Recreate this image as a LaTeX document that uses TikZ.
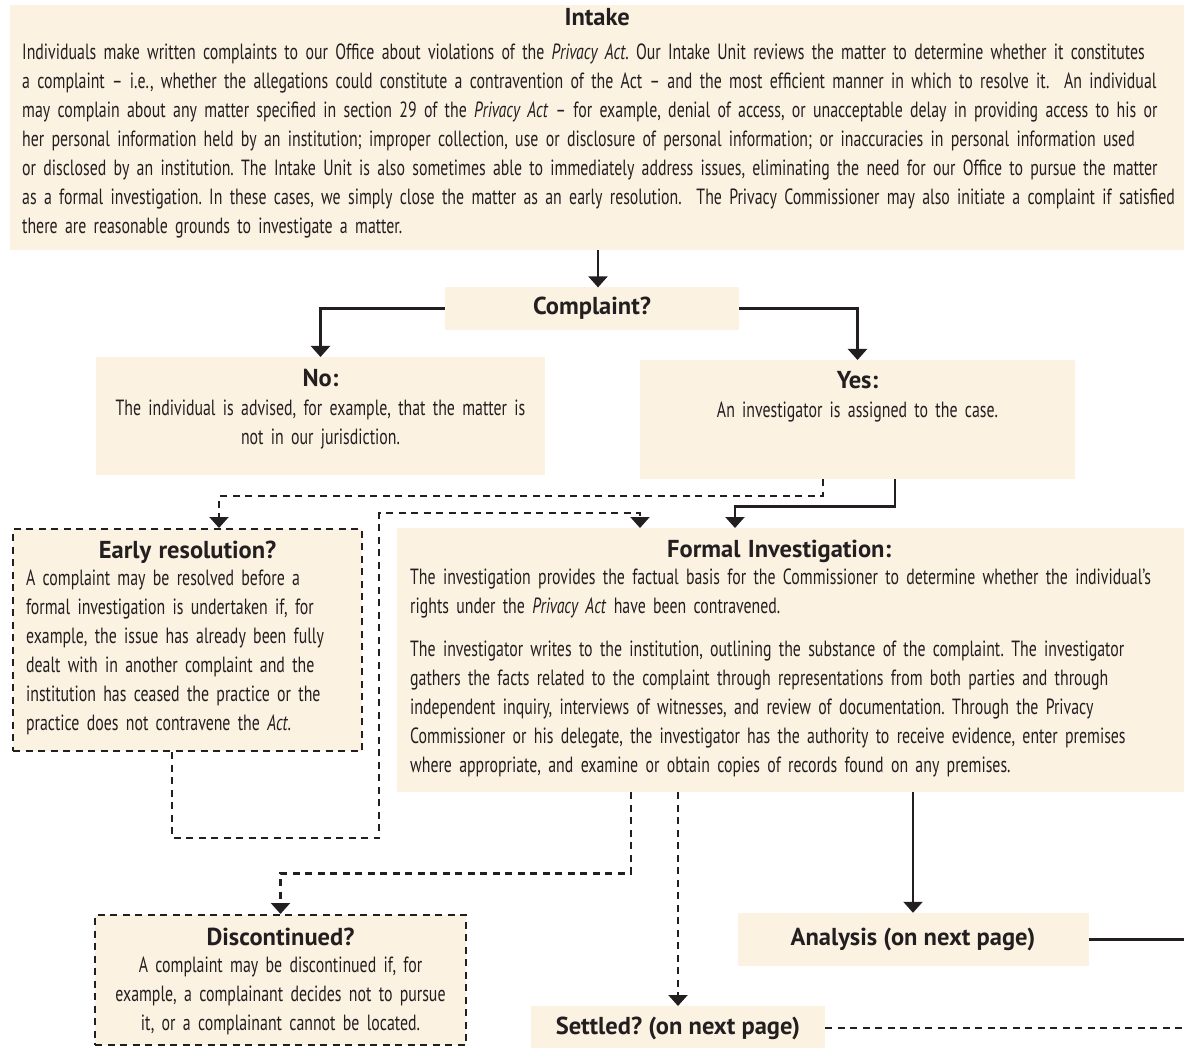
\documentclass[tikz,border=0pt]{standalone}
\usepackage{fontspec}
\setmainfont{PT Sans}[FakeStretch=0.72]
\newfontfamily\headfont{PT Sans}[FakeStretch=1.0]
\usetikzlibrary{arrows.meta}
\definecolor{cream}{HTML}{FBF2E2}
\definecolor{ink}{HTML}{231F20}
\setlength{\parindent}{0pt}
\frenchspacing
\newcommand{\hd}[1]{{\headfont\bfseries\fontsize{24.5pt}{29pt}\selectfont #1}}
\newcommand{\boxtitle}[2]{\makebox[#1]{\hd{#2}}}
\newcommand{\tl}[1]{\mbox{#1}}
\newcommand{\tgap}[1]{\rule{0pt}{#1}}
\newcommand{\bgap}[1]{\rule[-#1]{0pt}{#1}}

\begin{document}
\begin{tikzpicture}[x=1pt, y=-1pt,
	font={\fontsize{22pt}{29pt}\selectfont}, every node/.style={text=ink},
	box/.style={fill=cream, inner ysep=0pt},
	dbox/.style={box, draw=ink, line width=2.2pt, dash pattern=on 7pt off 5.5pt},
	head/.style={box, inner sep=0pt, font={\headfont\bfseries\fontsize{24.5pt}{29pt}\selectfont}},
	line/.style={draw=ink, line width=2.2pt},
	dline/.style={line, dash pattern=on 7pt off 5.5pt},
	arr/.style={line, -{Triangle[width=19pt, length=11pt]}},
	darr/.style={dline, -{Triangle[width=19pt, length=11pt]}}]
	\useasboundingbox (0,0) rectangle (1184,1048);

	% boxes
	\node	(intake)	[box, anchor=north west, inner xsep=12pt, text width=1170pt, align=left]	at (10,5)
		{\tgap{20pt}\boxtitle{1150pt}{Intake}\\[5pt]
		\tl{Individuals make written complaints to our Office about violations of the \emph{Privacy Act}. Our Intake Unit reviews the matter to determine whether it constitutes}\\
		\tl{a complaint -- i.e., whether the allegations could constitute a contravention of the Act -- and the most efficient manner in which to resolve it.\ \ An individual}\\
		\tl{may complain about any matter specified in section 29 of the \emph{Privacy Act} -- for example, denial of access, or unacceptable delay in providing access to his or}\\
		\tl{her personal information held by an institution; improper collection, use or disclosure of personal information; or inaccuracies in personal information used}\\
		\tl{or disclosed by an institution. The Intake Unit is also sometimes able to immediately address issues, eliminating the need for our Office to pursue the matter}\\
		\tl{as a formal investigation. In these cases, we simply close the matter as an early resolution.\ \ The Privacy Commissioner may also initiate a complaint if satisfied}\\
		\tl{there are reasonable grounds to investigate a matter.}\bgap{17pt}};
	\node	(complaint)	[head, minimum width=294pt, minimum height=43pt]	at (592,308.5)	{Complaint?};
	\node	(no)	[box, anchor=north, inner xsep=10pt, text width=429pt, align=center]	at (320.5,357)
		{\tgap{29pt}\hd{No:}\\
		\tl{The individual is advised, for example, that the matter is}\\
		\tl{not in our jurisdiction.}\bgap{31pt}};
	\node	(yes)	[box, anchor=north, inner xsep=10pt, text width=415pt, align=center]	at (857.5,360)
		{\tgap{28pt}\hd{Yes:}\\
		\tl{An investigator is assigned to the case.}\bgap{62pt}};
	\node	(early)	[dbox, anchor=north west, inner xsep=13pt, text width=323pt, align=left]	at (12,528)
		{\tgap{29pt}\boxtitle{323pt}{Early resolution?}\\[-2pt]
		\tl{A complaint may be resolved before a}\\
		\tl{formal investigation is undertaken if, for}\\
		\tl{example, the issue has already been fully}\\
		\tl{dealt with in another complaint and the}\\
		\tl{institution has ceased the practice or the}\\
		\tl{practice does not contravene the \emph{Act}.}\bgap{21pt}};
	\node	(formal)	[box, anchor=north west, inner xsep=13pt, text width=770pt, align=left]	at (397,528)
		{\tgap{29pt}\boxtitle{738pt}{Formal Investigation:}\\[-2pt]
		\tl{The investigation provides the factual basis for the Commissioner to determine whether the individual’s}\\
		\tl{rights under the \emph{Privacy Act} have been contravened.}\\[14pt]
		\tl{The investigator writes to the institution, outlining the substance of the complaint. The investigator}\\
		\tl{gathers the facts related to the complaint through representations from both parties and through}\\
		\tl{independent inquiry, interviews of witnesses, and review of documentation. Through the Privacy}\\
		\tl{Commissioner or his delegate, the investigator has the authority to receive evidence, enter premises}\\
		\tl{where appropriate, and examine or obtain copies of records found on any premises.}\bgap{20pt}};
	\node	(analysis)	[head, minimum width=351pt, minimum height=53pt]	at (913,939.5)	{Analysis (on next page)};
	\node	(disc)	[dbox, anchor=north, inner xsep=10pt, text width=351pt, align=center]	at (280.5,914)
		{\tgap{30pt}\hd{Discontinued?}\\[-2pt]
		\tl{A complaint may be discontinued if, for}\\
		\tl{example, a complainant decides not to pursue}\\
		\tl{it, or a complainant cannot be located.}\bgap{15pt}};
	\node	(settled)	[head, anchor=north, minimum width=294pt, minimum height=44pt]	at (678,1006)	{Settled? (on next page)};
	\coordinate	(pageR)	at (1184,0);

	% connectors
	\draw [arr] ([xshift=588pt]intake.south west) -- ++(0,37);
	\draw [arr] (complaint.west) -| (no.north);
	\draw [arr] (complaint.east) -| (yes.north);
	\draw [darr] ([xshift=183pt]yes.south west) -- ++(0,17) -| ([xshift=207pt]early.north west);
	\draw [arr] ([xshift=255pt]yes.south west) -- ++(0,27) -| ([xshift=338pt]formal.north west);
	\draw [darr] ([xshift=160pt]early.south west) -- ++(0,86) -- ++(207,0) -- ++(0,-325) -| ([xshift=243pt]formal.north west);
	\draw [darr] ([xshift=234pt]formal.south west) -- ++(0,81) -| (disc.north);
	\draw [darr] ([xshift=281pt]formal.south west) -- (settled.north);
	\draw [arr] ([xshift=516pt]formal.south west) -- (analysis.north);
	\draw [line] (analysis.east) -- (analysis.east -| pageR);
	\draw [dline] (settled.east) -- (settled.east -| pageR);
\end{tikzpicture}
\end{document}
